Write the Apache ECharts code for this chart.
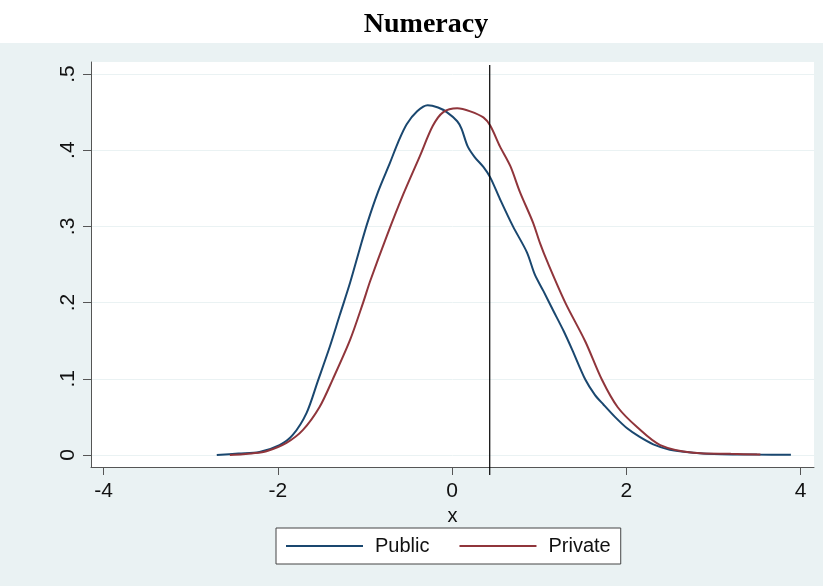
<!DOCTYPE html>
<html>
<head>
<meta charset="utf-8">
<script src="https://cdn.jsdelivr.net/npm/echarts@6/dist/echarts.min.js"></script>
<style>
    html, body { margin: 0; padding: 0; background: #fff; }
    #chart { width: 823px; height: 586px; }
</style>
</head>
<body>
<div id="chart"></div>
<script>
    // density estimates: [x, density]
    const publicData = [
        [-2.70, 0], [-2.45, 0.002], [-2.21, 0.004], [-1.98, 0.013], [-1.83, 0.026],
        [-1.67, 0.055], [-1.54, 0.097], [-1.40, 0.143], [-1.29, 0.183], [-1.17, 0.226],
        [-1.06, 0.270], [-0.97, 0.305], [-0.85, 0.345], [-0.71, 0.384], [-0.62, 0.410],
        [-0.52, 0.434], [-0.40, 0.451], [-0.28, 0.459], [-0.16, 0.456], [-0.06, 0.450],
        [0.06, 0.438], [0.11, 0.428], [0.18, 0.405], [0.26, 0.391], [0.36, 0.378],
        [0.44, 0.364], [0.55, 0.336], [0.70, 0.300], [0.86, 0.266], [0.95, 0.237],
        [1.05, 0.215], [1.16, 0.190], [1.28, 0.163], [1.38, 0.138], [1.53, 0.099],
        [1.64, 0.079], [1.74, 0.066], [1.87, 0.050], [2.01, 0.035], [2.15, 0.024],
        [2.31, 0.014], [2.50, 0.007], [2.77, 0.003], [3.10, 0.001], [3.50, 0.0005],
        [3.89, 0.0003]
    ]
    const privateData = [
        [-2.55, 0], [-2.40, 0.001], [-2.30, 0.002], [-2.13, 0.005], [-1.90, 0.016],
        [-1.71, 0.033], [-1.52, 0.063], [-1.37, 0.099], [-1.17, 0.151], [-1.02, 0.200],
        [-0.94, 0.228], [-0.75, 0.287], [-0.56, 0.342], [-0.37, 0.392], [-0.22, 0.432],
        [-0.10, 0.450], [0.06, 0.455], [0.21, 0.451], [0.36, 0.443], [0.44, 0.432],
        [0.55, 0.405], [0.67, 0.379], [0.78, 0.345], [0.93, 0.305], [1.01, 0.278],
        [1.10, 0.252], [1.30, 0.200], [1.53, 0.149], [1.72, 0.099], [1.90, 0.063],
        [2.13, 0.036], [2.39, 0.013], [2.77, 0.003], [3.20, 0.0015], [3.54, 0.0005]
    ]
    const xTicks = [-4, -2, 0, 2, 4]
    const yTicks = [0, 0.1, 0.2, 0.3, 0.4, 0.5]
    const refLineX = 0.433

    const xMin = -4.1435, xMax = 4.155
    const yMin = -0.01575, yMax = 0.51575

    const myChart = echarts.init(document.getElementById('chart'))
    const labelFont = 'Liberation Sans'

    const option = {
        animation: false,
        backgroundColor: '#fff',
        graphic: [
            // grey outer panel below the title
            { type: 'rect', left: 0, top: 43, shape: { width: 823, height: 543 }, style: { fill: '#EAF2F3' }, z: -10 }
        ],
        title: {
            text: 'Numeracy',
            left: 421,
            top: 6,
            textAlign: 'center',
            textStyle: { fontFamily: 'Liberation Serif', fontWeight: 'bold', fontSize: 28, color: '#000' }
        },
        grid: {
            left: 91,
            right: 9,
            top: 62,
            bottom: 119,
            show: true,
            backgroundColor: '#fff',
            borderWidth: 0
        },
        legend: {
            data: ['Public', 'Private'],
            left: 276,
            top: 528,
            icon: 'rect',
            itemWidth: 77,
            itemHeight: 2,
            itemGap: 30,
            padding: [8, 10, 8, 10],
            borderColor: '#444',
            borderWidth: 1,
            backgroundColor: '#fff',
            textStyle: { fontFamily: labelFont, fontSize: 20, color: '#111', padding: [0, 0, 0, 7] }
        },
        xAxis: {
            type: 'value',
            min: xMin,
            max: xMax,
            name: 'x',
            nameLocation: 'middle',
            nameGap: 30,
            nameTextStyle: { fontFamily: labelFont, fontSize: 20, color: '#111' },
            axisLine: { show: true, onZero: false, lineStyle: { color: '#555', width: 1 } },
            axisTick: { show: true, length: 8, customValues: xTicks, lineStyle: { color: '#555' } },
            axisLabel: {
                customValues: xTicks,
                margin: 14,
                fontFamily: labelFont,
                fontSize: 21,
                color: '#111'
            },
            splitLine: { show: false }
        },
        yAxis: {
            type: 'value',
            min: yMin,
            max: yMax,
            axisLine: { show: true, onZero: false, lineStyle: { color: '#555', width: 1 } },
            axisTick: { show: true, length: 8, customValues: yTicks, lineStyle: { color: '#555' } },
            axisLabel: {
                customValues: yTicks,
                rotate: 90,
                margin: 12,
                fontFamily: labelFont,
                fontSize: 21,
                color: '#111',
                formatter: v => (v === 0 ? '0' : String(v).replace(/^0/, ''))
            },
            splitLine: { show: true, lineStyle: { color: '#EAF2F3', width: 1 } }
        },
        series: [
            {
                name: 'Public',
                type: 'line',
                data: publicData,
                symbol: 'none',
                smooth: 0.3,
                lineStyle: { color: '#1A476F', width: 2 },
                itemStyle: { color: '#1A476F' },
                z: 3
            },
            {
                name: 'Private',
                type: 'line',
                data: privateData,
                symbol: 'none',
                smooth: 0.3,
                lineStyle: { color: '#90353B', width: 2 },
                itemStyle: { color: '#90353B' },
                z: 3
            },
            {
                // vertical reference line, reaching a tick length below the axis
                name: 'ref',
                type: 'line',
                data: [[refLineX, yMax - 0.004], [refLineX, yMin - 8 / 762]],
                symbol: 'none',
                clip: false,
                lineStyle: { color: '#000', width: 1.2 },
                silent: true,
                z: 4
            }
        ]
    }
    myChart.setOption(option)
</script>
</body>
</html>
